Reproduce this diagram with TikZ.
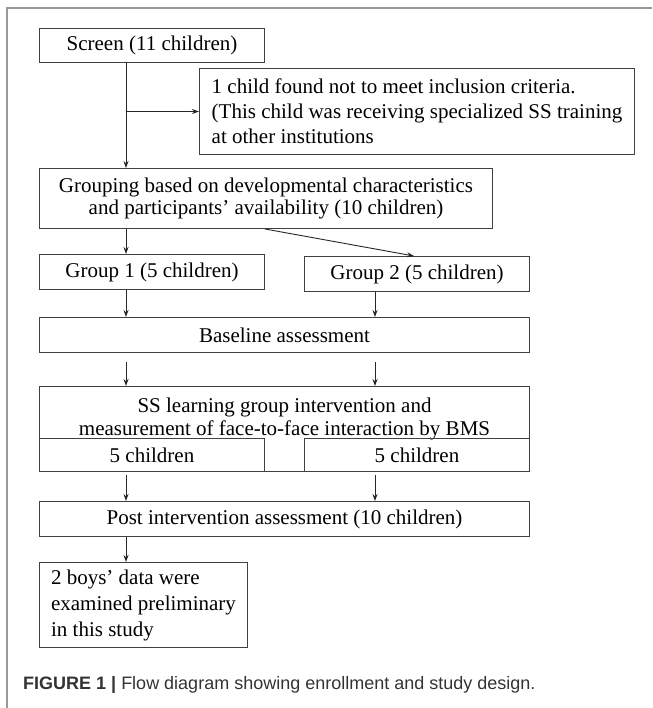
\documentclass[tikz,border=0pt]{standalone}
\usepackage{fontspec}
\setmainfont{Liberation Serif}
\newfontfamily\capfont{Liberation Sans}
\usetikzlibrary{arrows.meta}

\tikzset{
  box/.style={draw=black!75, line width=1pt, inner sep=0pt, anchor=north west,
    font=\fontsize{21}{25}\selectfont},
  arr/.style={draw=black!85, line width=0.9pt, -{Stealth[length=7pt,width=5pt]}},
}

\begin{document}
\begin{tikzpicture}[x=1pt,y=-1pt]
  \useasboundingbox (0,0) rectangle (652,708);
  \draw[black!40, line width=1.5pt] (7,708) -- (7,8) -- (652,8); % frame

  \coordinate (lx) at (126,0); % left column of arrows
  \coordinate (rx) at (375,0); % right column of arrows

  \node[box, minimum width=225pt, minimum height=34pt] (screen) at (39,28) {Screen (11 children)};
  \node[box, minimum width=435pt, minimum height=86pt, align=left] (exclude) at (199,68)
    {1 child found not to meet inclusion criteria.\\(This child was receiving specialized SS training\\at other institutions};
  \node[box, minimum width=453pt, minimum height=60pt, align=center, font=\fontsize{21}{22}\selectfont] (grouping) at (39,168)
    {Grouping based on developmental characteristics\\and participants' availability (10 children)};
  \node[box, minimum width=225pt, minimum height=35pt] (group1) at (39,254) {Group 1 (5 children)};
  \node[box, minimum width=225pt, minimum height=35pt] (group2) at (304,256) {Group 2 (5 children)};
  \node[box, minimum width=490pt, minimum height=35pt] (baseline) at (39,317) {Baseline assessment};
  \node[box, minimum width=490pt, minimum height=85pt] (ss) at (39,386) {};
  \node[font=\fontsize{21}{23}\selectfont, align=center, anchor=north, inner sep=0pt] (sstext) at ([yshift=-12pt]ss.north)
    {SS learning group intervention and\\measurement of face-to-face interaction by BMS};
  \node[box, minimum width=225pt, minimum height=33pt] (kids1) at (39,438) {5 children};
  \node[box, minimum width=225pt, minimum height=33pt] (kids2) at (304,438) {5 children};
  \node[box, minimum width=490pt, minimum height=35pt] (post) at (39,501) {Post intervention assessment (10 children)};
  \node[box, minimum width=208pt, minimum height=85pt, align=left, font=\fontsize{21}{26}\selectfont] (boys) at (39,562)
    {2 boys' data were\\examined preliminary\\in this study};

  \draw[arr] (screen.south -| lx) -- (grouping.north -| lx);
  \draw[arr] (exclude.west -| lx) -- (exclude.west);
  \draw[arr] (grouping.south -| lx) -- (group1.north -| lx);
  \draw[arr] (grouping.south -| screen.east) -- ([xshift=-3pt]group2.north);
  \draw[arr] (group1.south -| lx) -- (baseline.north -| lx);
  \draw[arr] (group2.south -| rx) -- (baseline.north -| rx);
  \draw[arr, shorten <=9pt] (baseline.south -| lx) -- (ss.north -| lx);
  \draw[arr, shorten <=9pt] (baseline.south -| rx) -- (ss.north -| rx);
  \draw[arr, shorten <=3pt] (ss.south -| lx) -- (post.north -| lx);
  \draw[arr, shorten <=3pt] (ss.south -| rx) -- (post.north -| rx);
  \draw[arr] (post.south -| lx) -- (boys.north -| lx);

  \node[anchor=west, inner sep=0pt, text=black!80, font=\capfont\fontsize{18}{22}\selectfont] (caption) at (23,685)
    {\textbf{FIGURE 1 |} Flow diagram showing enrollment and study design.};
\end{tikzpicture}
\end{document}
